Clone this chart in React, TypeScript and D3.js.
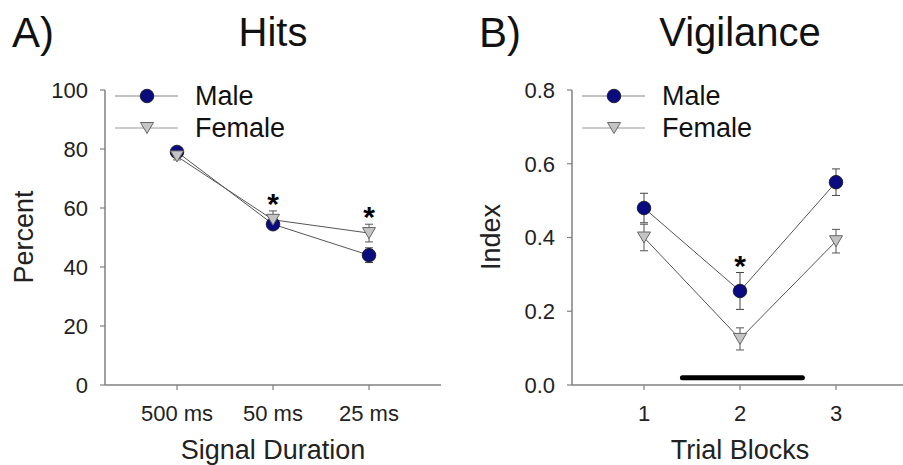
import React from "react";
import * as d3 from "d3";

const hitsCategories = ["500 ms", "50 ms", "25 ms"];
const hitsMale = [79, 54.5, 44];
const hitsMaleErr = [1.2, 1.5, 2.5];
const hitsFemale = [77.5, 56, 51.5];
const hitsFemaleErr = [1.2, 3, 3];
const hitsSig = [false, true, true];
const hitsTicks = [0, 20, 40, 60, 80, 100];

const vigCategories = ["1", "2", "3"];
const vigMale = [0.48, 0.255, 0.55];
const vigMaleErr = [0.04, 0.05, 0.036];
const vigFemale = [0.4, 0.125, 0.39];
const vigFemaleErr = [0.036, 0.03, 0.032];
const vigSig = [false, true, false];
const vigTicks = [0, 0.2, 0.4, 0.6, 0.8];
const vigBar = [1.4, 2.65];
const vigBarLevel = 0.02;

const FONT = "'Liberation Sans', Arial, sans-serif";
const MALE_FILL = "#0b0b80";
const FEMALE_FILL = "#c4c4c4";
const LINE = "#555";
const AXIS = "#808080";

type PanelProps = {
  letter: string;
  title: string;
  xLabel: string;
  yLabel: string;
  axisX: number;
  rightX: number;
  yMax: number;
  ticks: number[];
  tickFmt: (v: number) => string;
  cats: string[];
  male: number[];
  maleErr: number[];
  female: number[];
  femaleErr: number[];
  sig: boolean[];
  bar?: number[];
  barLevel?: number;
};

function Triangle({ cx, cy }: { cx: number; cy: number }) {
  const w = 6.5, h = 5.5;
  return (
    <path
      d={`M${cx - w},${cy - h}L${cx + w},${cy - h}L${cx},${cy + h}Z`}
      fill={FEMALE_FILL}
      stroke="#666"
      strokeWidth={1}
    />
  );
}

function Circle({ cx, cy }: { cx: number; cy: number }) {
  return <circle cx={cx} cy={cy} r={6.8} fill={MALE_FILL} stroke="#111" strokeWidth={0.8} />;
}

function Panel(p: PanelProps) {
  const x = d3.scaleLinear().domain([0.25, 3.75]).range([p.axisX, p.axisX + 336]);
  const y = d3.scaleLinear().domain([0, p.yMax]).range([385, 90]);
  const idx = p.cats.map((_, i) => i + 1);
  const line = d3
    .line<number>()
    .x((_, i) => x(i + 1))
    .y((d) => y(d));
  const errBar = (vals: number[], errs: number[], color: string) =>
    vals.map((v, i) => {
      const cx = x(i + 1);
      const y1 = y(v + errs[i]);
      const y2 = y(v - errs[i]);
      return (
        <g key={`e${i}`} stroke={color} strokeWidth={1}>
          <line x1={cx} x2={cx} y1={y1} y2={y2} />
          <line x1={cx - 4} x2={cx + 4} y1={y1} y2={y1} />
          <line x1={cx - 4} x2={cx + 4} y1={y2} y2={y2} />
        </g>
      );
    });
  const ax = p.axisX;
  const titleX = x(2);
  return (
    <g fontFamily={FONT}>
      <text x={ax - 93} y={47} fontSize={42} fill="#111">{p.letter}</text>
      <text x={titleX} y={46} fontSize={40} fill="#111" textAnchor="middle">{p.title}</text>
      {/* axes */}
      <line x1={ax} x2={ax} y1={y(p.yMax)} y2={385} stroke={AXIS} strokeWidth={1.5} />
      <line x1={ax} x2={Math.min(p.rightX, 903)} y1={385} y2={385} stroke={AXIS} strokeWidth={1.5} />
      {p.ticks.map((t) => (
        <g key={t}>
          <line x1={ax - 5} x2={ax} y1={y(t)} y2={y(t)} stroke={AXIS} strokeWidth={1.2} />
          <text x={ax - 17} y={y(t)} dy="0.36em" fontSize={22} textAnchor="end" fill="#222">
            {p.tickFmt(t)}
          </text>
        </g>
      ))}
      {idx.map((i) => (
        <g key={i}>
          <line x1={x(i)} x2={x(i)} y1={385} y2={390} stroke={AXIS} strokeWidth={1.2} />
          <text x={x(i)} y={421} fontSize={22} textAnchor="middle" fill="#222">
            {p.cats[i - 1]}
          </text>
        </g>
      ))}
      <text x={titleX} y={459} fontSize={27} textAnchor="middle" fill="#222">{p.xLabel}</text>
      <text
        transform={`translate(${ax - 72},237) rotate(-90)`}
        fontSize={27}
        textAnchor="middle"
        fill="#222"
      >
        {p.yLabel}
      </text>
      {/* legend */}
      <line x1={ax + 10} x2={ax + 73} y1={96} y2={96} stroke="#888" strokeWidth={1.2} />
      <Circle cx={ax + 42} cy={96} />
      <text x={ax + 90} y={105} fontSize={27} fill="#111">Male</text>
      <line x1={ax + 10} x2={ax + 73} y1={128} y2={128} stroke="#999" strokeWidth={1.2} />
      <Triangle cx={ax + 42} cy={128} />
      <text x={ax + 90} y={137} fontSize={27} fill="#111">Female</text>
      {/* significance bar */}
      {p.bar && (
        <line
          x1={x(p.bar[0])}
          x2={x(p.bar[1])}
          y1={y(p.barLevel || 0)}
          y2={y(p.barLevel || 0)}
          stroke="#000"
          strokeWidth={5}
          strokeLinecap="round"
        />
      )}
      {/* data */}
      {errBar(p.male, p.maleErr, "#444")}
      {errBar(p.female, p.femaleErr, "#555")}
      <path d={line(p.male) || ""} fill="none" stroke={LINE} strokeWidth={1} />
      <path d={line(p.female) || ""} fill="none" stroke={LINE} strokeWidth={1} />
      {p.male.map((v, i) => (
        <Circle key={`m${i}`} cx={x(i + 1)} cy={y(v)} />
      ))}
      {p.female.map((v, i) => (
        <Triangle key={`f${i}`} cx={x(i + 1)} cy={y(v)} />
      ))}
      {p.sig.map((s, i) =>
        s ? (
          <text
            key={`s${i}`}
            x={x(i + 1)}
            y={Math.min(y(p.male[i] + p.maleErr[i]), y(p.female[i] + p.femaleErr[i])) - 14 + 17}
            fontSize={30}
            fontWeight="bold"
            textAnchor="middle"
            fill="#000"
          >
            *
          </text>
        ) : null
      )}
    </g>
  );
}

export default function App() {
  return (
    <svg
      width={903}
      height={465}
      style={{ position: "absolute", left: 0, top: 0, background: "#fff" }}
    >
      <rect width={903} height={465} fill="#fff" />
      <Panel
        letter="A)"
        title="Hits"
        xLabel="Signal Duration"
        yLabel="Percent"
        axisX={105}
        rightX={441}
        yMax={100}
        ticks={hitsTicks}
        tickFmt={(v) => String(v)}
        cats={hitsCategories}
        male={hitsMale}
        maleErr={hitsMaleErr}
        female={hitsFemale}
        femaleErr={hitsFemaleErr}
        sig={hitsSig}
      />
      <Panel
        letter="B)"
        title="Vigilance"
        xLabel="Trial Blocks"
        yLabel="Index"
        axisX={572}
        rightX={908}
        yMax={0.8}
        ticks={vigTicks}
        tickFmt={d3.format(".1f")}
        cats={vigCategories}
        male={vigMale}
        maleErr={vigMaleErr}
        female={vigFemale}
        femaleErr={vigFemaleErr}
        sig={vigSig}
        bar={vigBar}
        barLevel={vigBarLevel}
      />
    </svg>
  );
}
